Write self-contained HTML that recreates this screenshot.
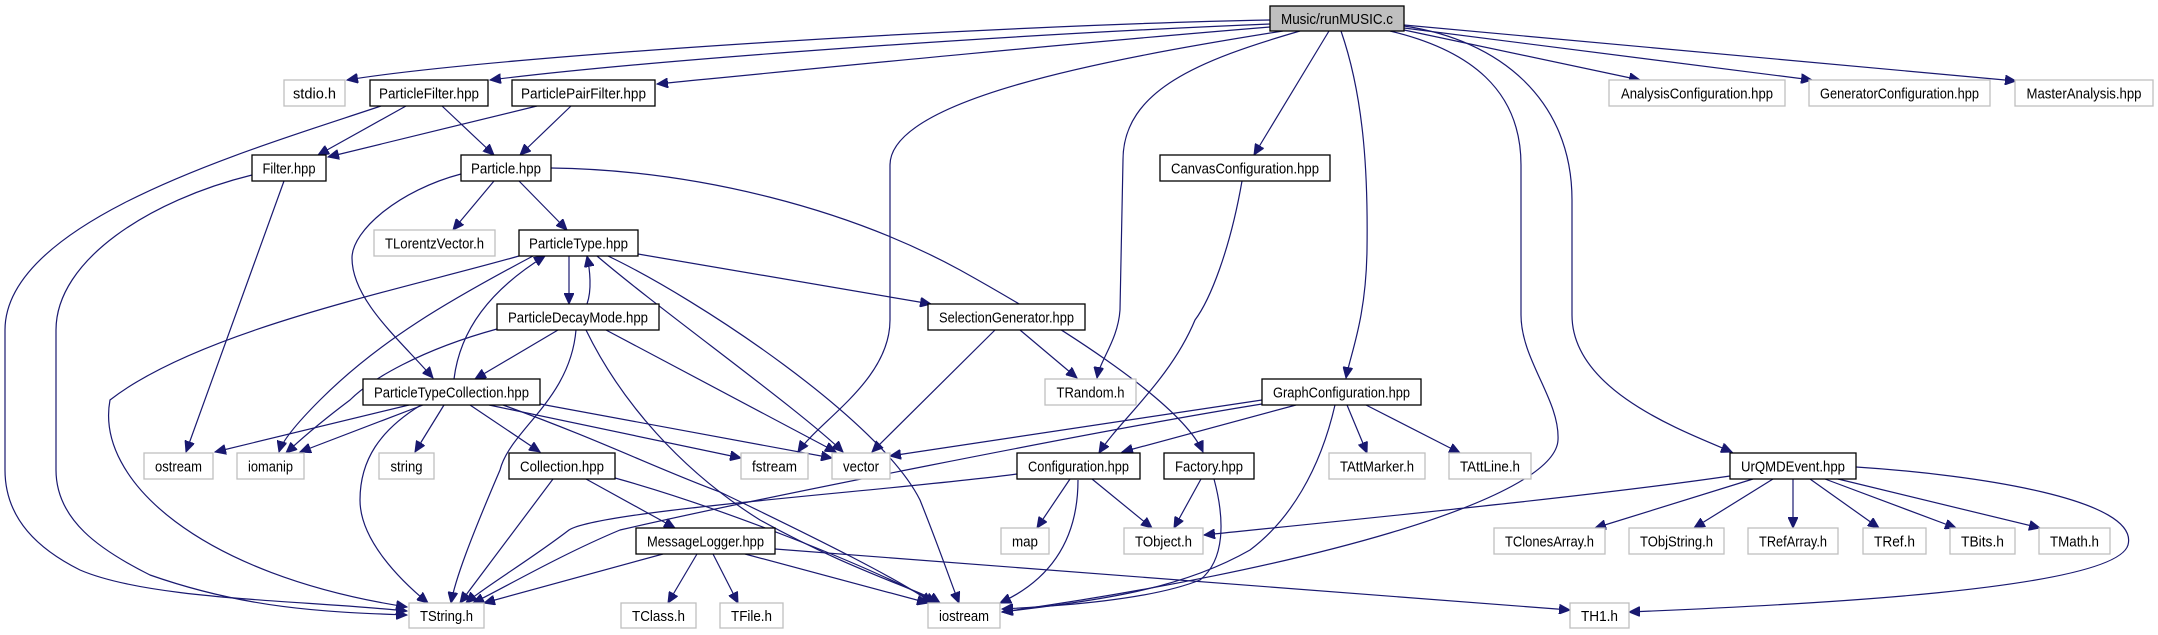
<!DOCTYPE html>
<html><head><meta charset="utf-8"><style>
html,body{margin:0;padding:0;background:#fff;}
svg{display:block}
text{font-family:"Liberation Sans",Arial,sans-serif;font-size:15px;fill:#000;text-anchor:middle;}
.e{fill:none;stroke:#191970;stroke-width:1.2;marker-end:url(#a)}
.n rect{fill:#fff;stroke:#000;stroke-width:1.3}
.g rect{fill:#fff;stroke:#bfbfbf;stroke-width:1.3}
</style></head><body>
<svg width="2158" height="635" viewBox="0 0 2158 635" xmlns="http://www.w3.org/2000/svg">
<defs><marker id="a" markerUnits="userSpaceOnUse" markerWidth="12" markerHeight="10" refX="11" refY="5" orient="auto"><path d="M0,0 L11,5 L0,10 z" fill="#191970" stroke="#191970"/></marker></defs>
<g>
<path class="e" d="M1270,20 C1000,25 500,55 347,80"/>
<path class="e" d="M1270,24 C1000,35 650,60 490,80"/>
<path class="e" d="M1270,27 C1050,45 800,70 657,84"/>
<path class="e" d="M1283,31 C1100,60 890,100 890,165 L890,320 C890,380 820,420 798,452"/>
<path class="e" d="M1300,31 C1200,60 1123,90 1123,160 L1120,310 C1118,340 1100,360 1097,378"/>
<path class="e" d="M1329,31 L1254,155"/>
<path class="e" d="M1341,31 C1365,100 1368,180 1367,250 C1366,320 1350,355 1346,378"/>
<path class="e" d="M1390,31 C1470,50 1521,90 1521,165 L1521,315 C1521,360 1560,400 1558,440 C1555,500 1300,570 1002,612"/>
<path class="e" d="M1404,26 C1500,40 1572,100 1572,200 L1572,315 C1572,390 1680,430 1732,452"/>
<path class="e" d="M1404,30 L1640,80"/>
<path class="e" d="M1404,28 L1812,80"/>
<path class="e" d="M1404,25 L2016,81"/>
<path class="e" d="M406,106 L318,155"/>
<path class="e" d="M442,106 L494,155"/>
<path class="e" d="M381,106 C250,150 5,220 5,330 L5,470 C5,520 40,550 80,570 C150,600 300,600 407,611"/>
<path class="e" d="M537,106 L328,157"/>
<path class="e" d="M571,106 L520,155"/>
<path class="e" d="M284,181 L186,452"/>
<path class="e" d="M252,175 C150,200 56,260 56,330 L56,470 C56,520 100,550 150,575 C250,610 330,612 407,615"/>
<path class="e" d="M494,181 L453,230"/>
<path class="e" d="M519,181 L567,230"/>
<path class="e" d="M461,174 C400,190 352,230 352,258 C352,300 400,340 433,378"/>
<path class="e" d="M551,168 C700,170 850,210 960,270 C1050,320 1180,400 1203,452"/>
<path class="e" d="M519,256 C400,290 200,330 110,400 C95,480 200,575 407,607"/>
<path class="e" d="M569,256 L569,304"/>
<path class="e" d="M587,304 C592,290 590,270 587,256"/>
<path class="e" d="M454,379 C460,330 490,290 545,256"/>
<path class="e" d="M533,256 C450,300 380,340 320,400 C290,430 281,445 279,452"/>
<path class="e" d="M638,254 L931,304"/>
<path class="e" d="M597,256 C660,310 800,410 843,452"/>
<path class="e" d="M608,256 C700,300 880,420 920,500 C940,550 950,580 959,603"/>
<path class="e" d="M558,330 L475,379"/>
<path class="e" d="M497,329 C420,350 370,380 350,400 C310,430 295,445 286,453"/>
<path class="e" d="M576,330 C570,400 510,430 500,470 C470,540 455,580 451,603"/>
<path class="e" d="M586,330 C620,400 680,470 760,520 C850,570 920,590 940,603"/>
<path class="e" d="M606,330 L836,452"/>
<path class="e" d="M409,405 L215,452"/>
<path class="e" d="M423,405 L300,452"/>
<path class="e" d="M444,405 L415,452"/>
<path class="e" d="M470,405 L540,452"/>
<path class="e" d="M421,405 C380,430 360,460 360,500 C360,540 400,580 428,603"/>
<path class="e" d="M489,405 L741,458"/>
<path class="e" d="M540,404 L832,458"/>
<path class="e" d="M503,405 C600,440 660,470 720,492 C820,540 900,580 932,603"/>
<path class="e" d="M586,479 L675,528"/>
<path class="e" d="M553,479 L460,603"/>
<path class="e" d="M615,478 C720,507 880,570 936,603"/>
<path class="e" d="M663,554 L484,603"/>
<path class="e" d="M697,554 L668,603"/>
<path class="e" d="M713,554 L738,603"/>
<path class="e" d="M745,554 L928,603"/>
<path class="e" d="M775,549 L1570,610"/>
<path class="e" d="M1017,474 C900,490 600,510 569,530 C530,560 480,590 466,603"/>
<path class="e" d="M1262,404 C1100,430 750,500 620,530 C560,555 500,590 473,603"/>
<path class="e" d="M1262,400 L890,456"/>
<path class="e" d="M1296,405 L1122,452"/>
<path class="e" d="M1347,405 L1367,453"/>
<path class="e" d="M1366,405 L1460,453"/>
<path class="e" d="M1335,405 C1320,470 1290,520 1250,550 C1180,590 1100,600 1002,612"/>
<path class="e" d="M1242,181 C1230,250 1210,300 1195,320 C1170,380 1120,420 1099,453"/>
<path class="e" d="M995,330 L872,452"/>
<path class="e" d="M1020,330 L1077,378"/>
<path class="e" d="M1070,479 L1037,528"/>
<path class="e" d="M1092,479 L1152,528"/>
<path class="e" d="M1078,480 C1078,540 1050,580 1000,603"/>
<path class="e" d="M1201,479 L1174,528"/>
<path class="e" d="M1214,479 C1225,520 1225,560 1200,580 C1150,600 1060,606 1002,609"/>
<path class="e" d="M1730,476 C1600,495 1400,515 1204,535"/>
<path class="e" d="M1753,479 L1595,528"/>
<path class="e" d="M1773,479 L1694,528"/>
<path class="e" d="M1793,479 L1793,528"/>
<path class="e" d="M1810,479 L1879,528"/>
<path class="e" d="M1825,479 L1956,528"/>
<path class="e" d="M1838,479 L2040,528"/>
<path class="e" d="M1856,467 C1980,475 2140,500 2128,545 C2115,590 1800,605 1629,612"/>
</g>
<g class="n"><rect x="1270" y="6" width="134" height="25" style="fill:#bfbfbf"/><text x="1337" y="24" textLength="112" lengthAdjust="spacingAndGlyphs">Music/runMUSIC.c</text></g>
<g class="g"><rect x="284" y="80" width="61" height="26"/><text x="314.5" y="98.5" textLength="43" lengthAdjust="spacingAndGlyphs">stdio.h</text></g>
<g class="n"><rect x="370" y="80" width="118" height="26"/><text x="429" y="98.5" textLength="100" lengthAdjust="spacingAndGlyphs">ParticleFilter.hpp</text></g>
<g class="n"><rect x="512" y="80" width="143" height="26"/><text x="583.5" y="98.5" textLength="125" lengthAdjust="spacingAndGlyphs">ParticlePairFilter.hpp</text></g>
<g class="g"><rect x="1609" y="80" width="176" height="26"/><text x="1697" y="98.5" textLength="152" lengthAdjust="spacingAndGlyphs">AnalysisConfiguration.hpp</text></g>
<g class="g"><rect x="1809" y="80" width="181" height="26"/><text x="1899.5" y="98.5" textLength="159" lengthAdjust="spacingAndGlyphs">GeneratorConfiguration.hpp</text></g>
<g class="g"><rect x="2015" y="80" width="138" height="26"/><text x="2084" y="98.5" textLength="115" lengthAdjust="spacingAndGlyphs">MasterAnalysis.hpp</text></g>
<g class="n"><rect x="252" y="155" width="74" height="26"/><text x="289" y="173.5" textLength="53" lengthAdjust="spacingAndGlyphs">Filter.hpp</text></g>
<g class="n"><rect x="461" y="155" width="90" height="26"/><text x="506" y="173.5" textLength="70" lengthAdjust="spacingAndGlyphs">Particle.hpp</text></g>
<g class="n"><rect x="1160" y="155" width="170" height="26"/><text x="1245" y="173.5" textLength="148" lengthAdjust="spacingAndGlyphs">CanvasConfiguration.hpp</text></g>
<g class="g"><rect x="374" y="230" width="121" height="26"/><text x="434.5" y="248.5" textLength="99" lengthAdjust="spacingAndGlyphs">TLorentzVector.h</text></g>
<g class="n"><rect x="519" y="230" width="119" height="26"/><text x="578.5" y="248.5" textLength="99" lengthAdjust="spacingAndGlyphs">ParticleType.hpp</text></g>
<g class="n"><rect x="497" y="304" width="162" height="26"/><text x="578" y="322.5" textLength="140" lengthAdjust="spacingAndGlyphs">ParticleDecayMode.hpp</text></g>
<g class="n"><rect x="928" y="304" width="157" height="26"/><text x="1006.5" y="322.5" textLength="135" lengthAdjust="spacingAndGlyphs">SelectionGenerator.hpp</text></g>
<g class="n"><rect x="363" y="379" width="177" height="26"/><text x="451.5" y="397.5" textLength="155" lengthAdjust="spacingAndGlyphs">ParticleTypeCollection.hpp</text></g>
<g class="g"><rect x="1045" y="379" width="91" height="26"/><text x="1090.5" y="397.5" textLength="68" lengthAdjust="spacingAndGlyphs">TRandom.h</text></g>
<g class="n"><rect x="1262" y="379" width="159" height="26"/><text x="1341.5" y="397.5" textLength="137" lengthAdjust="spacingAndGlyphs">GraphConfiguration.hpp</text></g>
<g class="g"><rect x="144" y="453" width="69" height="26"/><text x="178.5" y="471.5" textLength="47" lengthAdjust="spacingAndGlyphs">ostream</text></g>
<g class="g"><rect x="237" y="453" width="67" height="26"/><text x="270.5" y="471.5" textLength="45" lengthAdjust="spacingAndGlyphs">iomanip</text></g>
<g class="g"><rect x="379" y="453" width="55" height="26"/><text x="406.5" y="471.5" textLength="32" lengthAdjust="spacingAndGlyphs">string</text></g>
<g class="n"><rect x="509" y="453" width="106" height="26"/><text x="562" y="471.5" textLength="84" lengthAdjust="spacingAndGlyphs">Collection.hpp</text></g>
<g class="g"><rect x="741" y="453" width="67" height="26"/><text x="774.5" y="471.5" textLength="45" lengthAdjust="spacingAndGlyphs">fstream</text></g>
<g class="g"><rect x="832" y="453" width="58" height="26"/><text x="861" y="471.5" textLength="36" lengthAdjust="spacingAndGlyphs">vector</text></g>
<g class="n"><rect x="1017" y="453" width="123" height="26"/><text x="1078.5" y="471.5" textLength="101" lengthAdjust="spacingAndGlyphs">Configuration.hpp</text></g>
<g class="n"><rect x="1164" y="453" width="90" height="26"/><text x="1209" y="471.5" textLength="68" lengthAdjust="spacingAndGlyphs">Factory.hpp</text></g>
<g class="g"><rect x="1329" y="453" width="96" height="26"/><text x="1377" y="471.5" textLength="74" lengthAdjust="spacingAndGlyphs">TAttMarker.h</text></g>
<g class="g"><rect x="1449" y="453" width="82" height="26"/><text x="1490" y="471.5" textLength="60" lengthAdjust="spacingAndGlyphs">TAttLine.h</text></g>
<g class="n"><rect x="1730" y="453" width="126" height="26"/><text x="1793" y="471.5" textLength="104" lengthAdjust="spacingAndGlyphs">UrQMDEvent.hpp</text></g>
<g class="n"><rect x="636" y="528" width="139" height="26"/><text x="705.5" y="546.5" textLength="117" lengthAdjust="spacingAndGlyphs">MessageLogger.hpp</text></g>
<g class="g"><rect x="1001" y="528" width="48" height="26"/><text x="1025" y="546.5" textLength="26" lengthAdjust="spacingAndGlyphs">map</text></g>
<g class="g"><rect x="1124" y="528" width="79" height="26"/><text x="1163.5" y="546.5" textLength="57" lengthAdjust="spacingAndGlyphs">TObject.h</text></g>
<g class="g"><rect x="1494" y="528" width="111" height="26"/><text x="1549.5" y="546.5" textLength="89" lengthAdjust="spacingAndGlyphs">TClonesArray.h</text></g>
<g class="g"><rect x="1629" y="528" width="95" height="26"/><text x="1676.5" y="546.5" textLength="73" lengthAdjust="spacingAndGlyphs">TObjString.h</text></g>
<g class="g"><rect x="1748" y="528" width="90" height="26"/><text x="1793" y="546.5" textLength="68" lengthAdjust="spacingAndGlyphs">TRefArray.h</text></g>
<g class="g"><rect x="1863" y="528" width="63" height="26"/><text x="1894.5" y="546.5" textLength="41" lengthAdjust="spacingAndGlyphs">TRef.h</text></g>
<g class="g"><rect x="1950" y="528" width="65" height="26"/><text x="1982.5" y="546.5" textLength="43" lengthAdjust="spacingAndGlyphs">TBits.h</text></g>
<g class="g"><rect x="2039" y="528" width="71" height="26"/><text x="2074.5" y="546.5" textLength="49" lengthAdjust="spacingAndGlyphs">TMath.h</text></g>
<g class="g"><rect x="409" y="603" width="75" height="25"/><text x="446.5" y="621" textLength="53" lengthAdjust="spacingAndGlyphs">TString.h</text></g>
<g class="g"><rect x="621" y="603" width="75" height="25"/><text x="658.5" y="621" textLength="53" lengthAdjust="spacingAndGlyphs">TClass.h</text></g>
<g class="g"><rect x="720" y="603" width="63" height="25"/><text x="751.5" y="621" textLength="41" lengthAdjust="spacingAndGlyphs">TFile.h</text></g>
<g class="g"><rect x="928" y="603" width="72" height="25"/><text x="964" y="621" textLength="50" lengthAdjust="spacingAndGlyphs">iostream</text></g>
<g class="g"><rect x="1570" y="603" width="59" height="25"/><text x="1599.5" y="621" textLength="37" lengthAdjust="spacingAndGlyphs">TH1.h</text></g>
</svg>
</body></html>
